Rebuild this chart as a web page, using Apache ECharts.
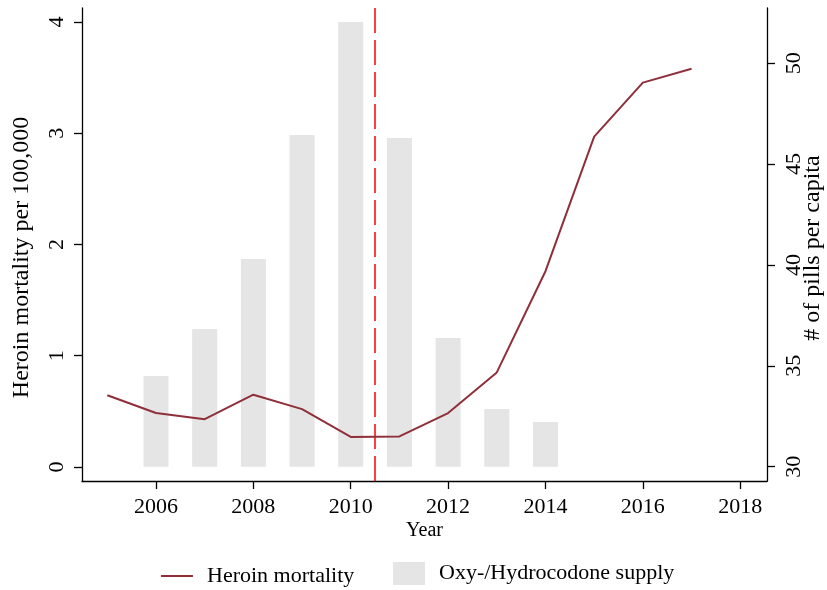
<!DOCTYPE html>
<html>
<head>
<meta charset="utf-8">
<script src="https://cdn.jsdelivr.net/npm/echarts@6/dist/echarts.min.js"></script>
<style>html,body{margin:0;padding:0;background:#fff}#c{width:827px;height:590px}</style>
</head>
<body>
<div id="c"></div>
<script>
// Data
const years = [2005, 2006, 2007, 2008, 2009, 2010, 2011, 2012, 2013, 2014, 2015, 2016, 2017];
const heroinMortality = [0.645, 0.485, 0.43, 0.65, 0.52, 0.27, 0.275, 0.485, 0.85, 1.76, 2.97, 3.455, 3.58];
const pillYears = [2006, 2007, 2008, 2009, 2010, 2011, 2012, 2013, 2014];
const pillsPerCapita = [34.5, 36.83, 40.3, 46.44, 52.05, 46.29, 36.38, 32.86, 32.22];
const xTicks = [2006, 2008, 2010, 2012, 2014, 2016, 2018];
const leftTicks = [0, 1, 2, 3, 4];
const rightTicks = [30, 35, 40, 45, 50];
const pillBase = 30;
const cutoffYear = 2010.5;

const FONT = 'Liberation Serif';
const BAR_COLOR = '#e5e5e5';
const LINE_COLOR = '#8e2f39';
const chart = echarts.init(document.getElementById('c'));
const axisLineStyle = { show: true, onZero: false, lineStyle: { color: '#000', width: 1.3 } };
const tickStyle = { show: true, length: 8, lineStyle: { color: '#000', width: 1.3 } };
const plain = (v) => String(v);
chart.setOption({
  animation: false,
  backgroundColor: '#fff',
  grid: { left: 82, right: 60, top: 8, bottom: 109, containLabel: false, outerBoundsMode: 'none' },
  legend: [
    {
      left: 156, top: 560, icon: 'rect',
      itemWidth: 32, itemHeight: 2,
      data: ['Heroin mortality'],
      textStyle: { fontFamily: FONT, fontSize: 22, color: '#000', padding: [0, 0, 0, 9] },
    },
    {
      left: 388, top: 557, icon: 'rect',
      itemWidth: 32, itemHeight: 23,
      data: ['Oxy-/Hydrocodone supply'],
      textStyle: { fontFamily: FONT, fontSize: 22, color: '#000', padding: [5, 0, 0, 9] },
    },
  ],
  xAxis: {
    type: 'value', min: 2004.48, max: 2018.55,
    axisLine: axisLineStyle, splitLine: { show: false },
    axisTick: Object.assign({}, tickStyle, { customValues: xTicks }),
    axisLabel: { customValues: xTicks, formatter: plain, fontFamily: FONT, fontSize: 22, color: '#000', margin: 15 },
    name: 'Year', nameLocation: 'middle', nameGap: 40, nameMoveOverlap: false,
    nameTextStyle: { fontFamily: FONT, fontSize: 20, color: '#000' },
  },
  yAxis: [
    {
      type: 'value', min: -0.126, max: 4.126, position: 'left',
      axisLine: axisLineStyle, splitLine: { show: false },
      axisTick: Object.assign({}, tickStyle, { customValues: leftTicks }),
      axisLabel: { customValues: leftTicks, formatter: plain, rotate: 90, fontFamily: FONT, fontSize: 22, color: '#000', margin: 14 },
      name: 'Heroin mortality per 100,000', nameLocation: 'middle', nameGap: 48, nameRotate: 90, nameMoveOverlap: false,
      nameTextStyle: { fontFamily: FONT, fontSize: 24, color: '#000', padding: [0, 26, 0, 0] },
    },
    {
      type: 'value', min: 29.29, max: 52.74, position: 'right',
      axisLine: axisLineStyle, splitLine: { show: false },
      axisTick: Object.assign({}, tickStyle, { customValues: rightTicks }),
      axisLabel: { customValues: rightTicks, formatter: plain, rotate: 90, fontFamily: FONT, fontSize: 22, color: '#000', margin: 16 },
      name: '# of pills per capita', nameLocation: 'middle', nameGap: 34, nameRotate: 90, nameMoveOverlap: false,
      nameTextStyle: { fontFamily: FONT, fontSize: 24, color: '#000', padding: [0, 7, 0, 0] },
    },
  ],
  series: [
    {
      name: 'Oxy-/Hydrocodone supply', type: 'custom', yAxisIndex: 1, z: 1,
      itemStyle: { color: BAR_COLOR },
      encode: { x: 0, y: 1 },
      data: pillYears.map((y, i) => [y, pillsPerCapita[i]]),
      renderItem: (params, api) => {
        const x = api.value(0);
        const top = api.coord([x, api.value(1)]);
        const base = api.coord([x, pillBase]);
        const w = api.size([0.514, 0])[0];
        return {
          type: 'rect',
          shape: { x: top[0] - w / 2, y: top[1], width: w, height: base[1] - top[1] },
          style: { fill: BAR_COLOR },
        };
      },
    },
    {
      name: 'Heroin mortality', type: 'line', yAxisIndex: 0, symbol: 'none', z: 5,
      lineStyle: { color: LINE_COLOR, width: 2 },
      itemStyle: { color: LINE_COLOR },
      data: years.map((y, i) => [y, heroinMortality[i]]),
      markLine: {
        silent: true, symbol: 'none', label: { show: false },
        lineStyle: { color: '#ff0000', type: [25, 7], width: 1.5 },
        data: [{ xAxis: cutoffYear }],
      },
    },
  ],
});
</script>
</body>
</html>
